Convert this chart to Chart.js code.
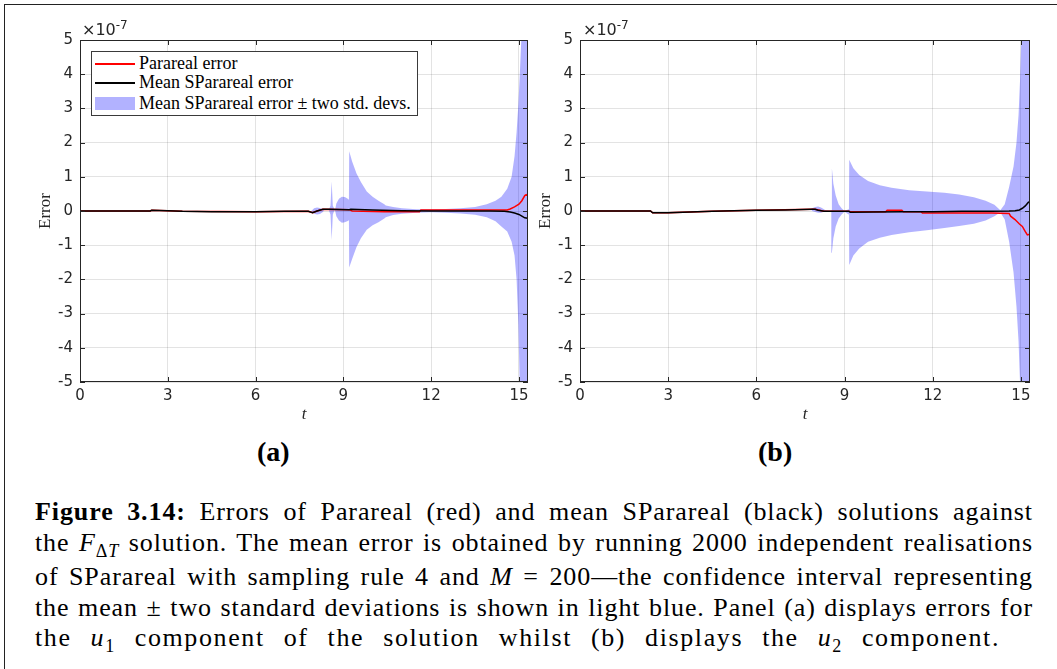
<!DOCTYPE html>
<html>
<head>
<meta charset="utf-8">
<script src="https://cdn.jsdelivr.net/npm/chart.js@4.4.1/dist/chart.umd.min.js"></script>
<style>
  body { margin: 0; background: #fff; width: 1057px; height: 669px; overflow: hidden; position: relative; }
  #frame { position: absolute; left: 4px; top: 4px; width: 1060px; height: 680px; border-left: 1px solid #222; border-top: 1px solid #222; }
  .painel { position: absolute; top: 0; width: 540px; height: 430px; }
  .expo { position: absolute; top: 18px; font: 16px "DejaVu Sans", sans-serif; color: #262626; }
  .expo sup { font-size: 12px; }
  .rotulo { position: absolute; top: 436px; font: bold 28px "Liberation Serif", serif; color: #000; }
  #legenda { position: absolute; left: 91px; top: 51px; width: 327px; height: 65px; background: #fff; border: 1px solid #3a3a3a; box-sizing: border-box; font: 18px "Liberation Serif", serif; color: #000; }
  #legenda .amostra { position: absolute; left: 3px; width: 40px; }
  #legenda .texto { position: absolute; left: 47px; white-space: nowrap; line-height: 20px; }
  #legenda-cap { position: absolute; left: 35px; top: 496px; width: 998px; font: 26px "Liberation Serif", serif; color: #000; line-height: 31px; letter-spacing: 0.9px; }
  #legenda-cap div { text-align: justify; text-align-last: justify; white-space: nowrap; height: 31px; }
  #legenda-cap div.l2 { height: 34px; }
  #legenda-cap div.l4 { height: 30px; }
  #legenda-cap div.ult { width: 965px; letter-spacing: 1.6px; }
  #legenda-cap sub { font-size: 18px; line-height: 0; }
</style>
</head>
<body>
<div id="frame"></div>
<div class="painel" style="left:0"><canvas id="graficoA"></canvas></div>
<div class="painel" style="left:500px"><canvas id="graficoB"></canvas></div>
<div class="expo" style="left:82px">&times;10<sup>-7</sup></div>
<div class="expo" style="left:583px">&times;10<sup>-7</sup></div>
<div id="legenda">
  <span class="amostra" style="top:11px;height:1.5px;background:#ff0000"></span>
  <div class="texto" style="top:1px">Parareal error</div>
  <span class="amostra" style="top:30px;height:1.5px;background:#000"></span>
  <div class="texto" style="top:20px">Mean SParareal error</div>
  <span class="amostra" style="top:45px;height:13px;background:rgba(0,0,255,0.3)"></span>
  <div class="texto" style="top:41px">Mean SParareal error &plusmn; two std. devs.</div>
</div>
<div class="rotulo" style="left:257px">(a)</div>
<div class="rotulo" style="left:758px">(b)</div>
<div id="legenda-cap">
  <div><b>Figure 3.14:</b> Errors of Parareal (red) and mean SParareal (black) solutions against</div>
  <div class="l2">the <i>F</i><sub>&Delta;<i>T</i></sub> solution. The mean error is obtained by running 2000 independent realisations</div>
  <div>of SParareal with sampling rule 4 and <i>M</i> = 200&mdash;the confidence interval representing</div>
  <div class="l4">the mean &plusmn; two standard deviations is shown in light blue. Panel (a) displays errors for</div>
  <div class="ult">the <i>u</i><sub>1</sub> component of the solution whilst (b) displays the <i>u</i><sub>2</sub> component.</div>
</div>
<script>
// painel (a): componente u1
const tFaixaA = [0, 7.9, 7.95, 8.0, 8.1, 8.2, 8.3, 8.35, 8.5, 8.56, 8.6, 8.64, 8.7, 8.72, 8.76, 8.85, 8.95, 9.05, 9.15, 9.19, 9.2, 9.3, 9.45, 9.6, 9.8, 10.0, 10.2, 10.4, 10.45, 10.7, 11.0, 11.5, 12.0, 12.5, 13.0, 13.5, 13.9, 14.2, 14.4, 14.6, 14.75, 14.85, 14.92, 14.98, 15.03, 15.08, 15.15, 15.2, 15.31];
const supA = [0, 0, 0.04, 0.08, 0.1, 0.09, 0.05, 0.03, 0.03, 0.15, 0.86, 0.15, 0.05, 0.05, 0.22, 0.36, 0.42, 0.41, 0.36, 0.33, 1.75, 1.45, 1.1, 0.85, 0.57, 0.42, 0.3, 0.2, 0.16, 0.12, 0.08, 0.05, 0.05, 0.06, 0.08, 0.12, 0.2, 0.3, 0.42, 0.65, 1.0, 1.6, 2.3, 3.1, 4.0, 5.0, 7.5, 12, 30];
const infA = [0, 0, -0.04, -0.08, -0.1, -0.09, -0.03, 0.03, 0.03, -0.1, -0.85, -0.1, 0.03, 0.0, -0.15, -0.28, -0.34, -0.33, -0.29, -0.27, -1.65, -1.4, -1.05, -0.8, -0.55, -0.42, -0.33, -0.22, -0.18, -0.12, -0.08, -0.05, -0.04, -0.05, -0.07, -0.11, -0.18, -0.3, -0.45, -0.6, -0.9, -1.3, -2.0, -3.3, -5.2, -8, -12, -20, -30];
const tMediaA = [0, 2.4, 2.45, 3.0, 3.5, 4.5, 6.0, 7.0, 7.8, 7.95, 8.1, 8.3, 8.5, 9.2, 9.25, 10.0, 11.0, 12.0, 13.0, 14.0, 14.5, 14.7, 14.85, 15.0, 15.1, 15.2, 15.3];
const mediaA = [0, 0, 0.02, 0.01, -0.01, -0.02, -0.02, -0.01, -0.01, -0.05, 0.0, 0.05, 0.05, 0.04, 0.05, 0.03, 0.01, 0.0, 0.0, 0.0, -0.01, -0.03, -0.06, -0.1, -0.15, -0.2, -0.21];
const tPararealA = [0, 2.4, 2.45, 3.5, 6.0, 7.8, 7.95, 8.1, 8.3, 9.2, 9.3, 10.4, 11.6, 11.65, 13.0, 14.6, 14.7, 14.85, 15.0, 15.1, 15.2, 15.25, 15.3];
const pararealA = [0, 0, 0.02, -0.01, -0.02, -0.01, -0.05, 0, 0.05, 0.04, 0.0, -0.02, -0.02, 0.03, 0.03, 0.03, 0.06, 0.12, 0.2, 0.3, 0.45, 0.48, 0.45];

// painel (b): componente u2
const tFaixaB = [0, 7.85, 7.9, 8.0, 8.1, 8.2, 8.3, 8.35, 8.5, 8.55, 8.57, 8.62, 8.7, 8.8, 8.9, 9.0, 9.1, 9.15, 9.16, 9.3, 9.5, 9.8, 10.2, 10.6, 11.2, 11.8, 12.4, 12.9, 13.4, 13.8, 14.1, 14.3, 14.45, 14.6, 14.75, 14.85, 14.92, 14.97, 15.02, 15.1, 15.2, 15.32];
const supB = [0, 0.05, 0.08, 0.12, 0.13, 0.1, 0.05, 0.02, 0.0, 0.02, 1.25, 0.8, 0.45, 0.2, 0.08, 0.0, 0.04, 0.05, 1.5, 1.25, 1.05, 0.88, 0.75, 0.68, 0.61, 0.57, 0.53, 0.48, 0.4, 0.3, 0.18, 0.02, 0.2, 0.7, 1.3, 2.0, 2.8, 3.8, 5.2, 9, 15, 30];
const infB = [0, 0.05, 0.0, -0.03, -0.05, -0.05, -0.02, 0.0, 0.0, -0.02, -1.22, -0.8, -0.45, -0.22, -0.1, -0.02, -0.08, -0.1, -1.58, -1.3, -1.1, -0.9, -0.78, -0.7, -0.62, -0.56, -0.5, -0.44, -0.37, -0.28, -0.15, -0.04, -0.25, -0.9, -1.8, -2.8, -3.8, -5, -7, -12, -20, -30];
const tMediaB = [0, 2.4, 2.47, 3.0, 4.5, 6.0, 7.0, 7.9, 8.0, 8.1, 8.3, 8.6, 9.15, 9.2, 10.0, 11.0, 12.0, 13.0, 14.0, 14.6, 14.8, 14.95, 15.05, 15.15, 15.25, 15.32];
const mediaB = [0, 0, -0.05, -0.05, -0.01, 0.02, 0.03, 0.05, 0.05, 0.02, -0.01, -0.01, -0.01, -0.04, -0.03, -0.02, -0.02, -0.01, -0.01, 0.0, 0.01, 0.03, 0.08, 0.15, 0.25, 0.28];
const tPararealB = [0, 2.4, 2.47, 3.0, 4.5, 6.0, 7.9, 8.0, 8.3, 8.6, 9.15, 9.2, 10.4, 10.45, 10.95, 11.0, 11.6, 11.65, 14.0, 14.6, 14.65, 14.8, 14.95, 15.05, 15.15, 15.22, 15.3];
const pararealB = [0, 0, -0.05, -0.05, -0.01, 0.02, 0.05, 0.05, -0.01, -0.01, -0.01, -0.02, -0.02, 0.02, 0.02, -0.02, -0.02, -0.06, -0.06, -0.07, -0.15, -0.25, -0.38, -0.45, -0.6, -0.7, -0.68];

const ticksX = [0, 3, 6, 9, 12, 15];
const ticksY = [-5, -4, -3, -2, -1, 0, 1, 2, 3, 4, 5];

const corEixo = '#262626';
const fonteTicks = { family: 'DejaVu Sans', size: 15 };

function pontos(ts, vs) {
    return ts.map((t, i) => ({ x: t, y: vs[i] }));
}

// caixa em volta do grafico com marcas para dentro, como no MATLAB
const caixaPlugin = {
    id: 'caixa',
    afterDatasetsDraw(chart) {
        const { ctx, chartArea: a, scales } = chart;
        ctx.save();
        ctx.strokeStyle = corEixo;
        ctx.lineWidth = 1;
        ctx.strokeRect(Math.round(a.left) + 0.5, Math.round(a.top) + 0.5, Math.round(a.right - a.left) - 1, Math.round(a.bottom - a.top) - 1);
        ctx.beginPath();
        ticksX.forEach(v => {
            const px = Math.round(scales.x.getPixelForValue(v)) + 0.5;
            ctx.moveTo(px, a.bottom); ctx.lineTo(px, a.bottom - 5);
            ctx.moveTo(px, a.top); ctx.lineTo(px, a.top + 5);
        });
        ticksY.forEach(v => {
            const py = Math.round(scales.y.getPixelForValue(v)) + 0.5;
            ctx.moveTo(a.left, py); ctx.lineTo(a.left + 5, py);
            ctx.moveTo(a.right, py); ctx.lineTo(a.right - 5, py);
        });
        ctx.stroke();
        ctx.restore();
    }
};

function criarGrafico(id, dir, tF, sup, inf, tM, media, tP, parareal) {
    const ctx = document.getElementById(id).getContext('2d');
    return new Chart(ctx, {
        type: 'line',
        data: {
            datasets: [
                { label: 'Mean SParareal error', data: pontos(tM, media), borderColor: '#000', borderWidth: 1.5, pointRadius: 0, fill: false, order: 0 },
                { label: 'Parareal error', data: pontos(tP, parareal), borderColor: '#ff0000', borderWidth: 1.5, pointRadius: 0, fill: false, order: 1 },
                { label: 'sup', data: pontos(tF, sup), borderWidth: 0, borderColor: 'rgba(0,0,0,0)', pointRadius: 0, backgroundColor: 'rgba(0,0,255,0.3)', fill: '+1', order: 2 },
                { label: 'inf', data: pontos(tF, inf), borderWidth: 0, borderColor: 'rgba(0,0,0,0)', pointRadius: 0, fill: false, order: 3 }
            ]
        },
        options: {
            responsive: false,
            animation: false,
            layout: { padding: { top: 40, right: dir, left: 0, bottom: 0 } },
            plugins: { legend: { display: false }, tooltip: { enabled: false } },
            scales: {
                x: {
                    type: 'linear', min: 0, max: 15.31,
                    afterBuildTicks: s => { s.ticks = ticksX.map(v => ({ value: v })); },
                    afterFit: s => { s.height = 48; },
                    ticks: { font: fonteTicks, color: corEixo, padding: 5, maxRotation: 0 },
                    grid: { color: 'rgba(38,38,38,0.13)', drawTicks: false },
                    border: { display: false },
                    title: { display: true, text: 't', font: { family: 'Liberation Serif', size: 17, style: 'italic' }, color: corEixo, padding: { top: 0, bottom: 5 } }
                },
                y: {
                    min: -5, max: 5,
                    afterBuildTicks: s => { s.ticks = ticksY.map(v => ({ value: v })); },
                    afterFit: s => { s.width = 80; },
                    ticks: { font: fonteTicks, color: corEixo, padding: 7, callback: v => String(v) },
                    grid: { color: 'rgba(38,38,38,0.13)', drawTicks: false },
                    border: { display: false },
                    title: { display: true, text: 'Error', font: { family: 'Liberation Serif', size: 17 }, color: corEixo, padding: { top: 35, bottom: 0 } }
                }
            }
        },
        plugins: [caixaPlugin]
    });
}

function montar(id, w) {
    const c = document.getElementById(id);
    c.width = w; c.height = 430;
    c.style.width = w + 'px'; c.style.height = '430px';
}
montar('graficoA', 540);
montar('graficoB', 540);
criarGrafico('graficoA', 12, tFaixaA, supA, infA, tMediaA, mediaA, tPararealA, pararealA);
criarGrafico('graficoB', 10, tFaixaB, supB, infB, tMediaB, mediaB, tPararealB, pararealB);
</script>
</body>
</html>
